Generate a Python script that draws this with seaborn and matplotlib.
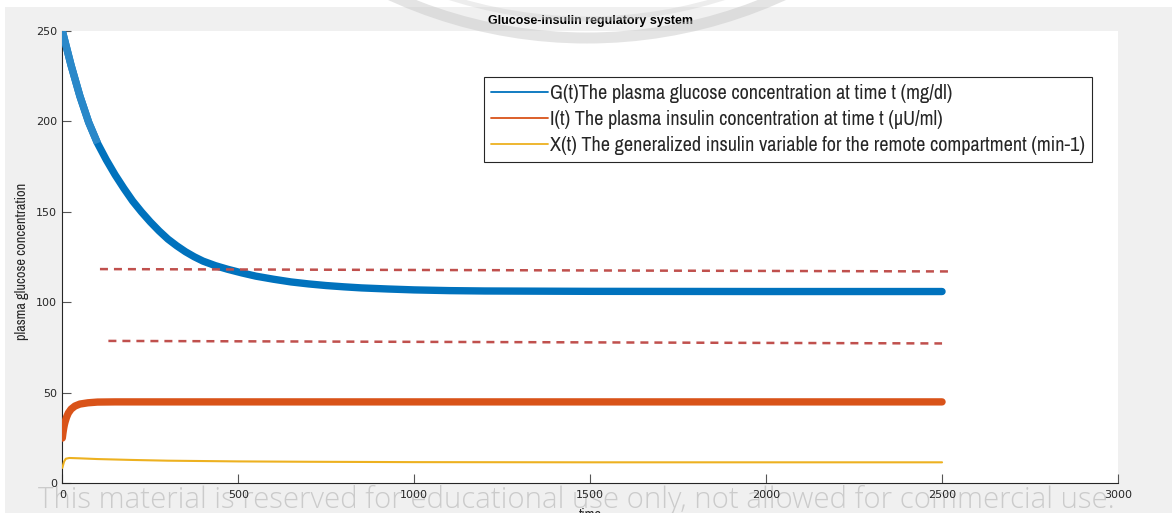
import matplotlib
matplotlib.use("Agg")
import matplotlib.pyplot as plt
from matplotlib import font_manager
from matplotlib.font_manager import FontProperties
from matplotlib.patches import Rectangle, Arc
from matplotlib.lines import Line2D
from matplotlib.transforms import IdentityTransform
import pandas as pd
import seaborn as sns

# ---- data -------------------------------------------------------------
t_glucose = [0, 25, 50, 75, 100, 125, 150, 175, 200, 225, 250, 275, 300,
             325, 350, 375, 400, 435, 470, 510, 550, 600, 650, 700, 750,
             800, 850, 925, 1000, 1100, 1200, 1350, 1500, 2000, 2500]
glucose = [250, 231, 214, 199.5, 188, 178.8, 170.5, 163, 156, 150, 144.5,
           139.5, 135, 131.3, 128, 125.2, 122.8, 120.3, 118.3, 116.3, 114.5,
           112.8, 111.3, 110.2, 109.3, 108.6, 108.0, 107.4, 106.9, 106.5,
           106.3, 106.2, 106.1, 106.0, 106.0]

t_insulin = [0, 2, 4, 6, 8, 12, 17, 25, 36, 50, 73, 100, 150, 2500]
insulin = [25, 28, 30.5, 32.5, 34, 36.5, 38.8, 41, 42.7, 43.8, 44.5, 44.9,
           45.0, 45.0]

t_remote = [0, 5, 10, 20, 50, 100, 200, 300, 500, 700, 1000, 1500, 2500]
remote_x = [8.5, 12, 13.6, 14, 13.8, 13.4, 12.9, 12.5, 12.1, 11.9, 11.7,
            11.6, 11.6]

upper_t = [107, 2517]
upper_y = [118.4, 117.1]
lower_t = [131, 2500]
lower_y = [78.7, 77.3]

series_labels = [
    "G(t)The plasma glucose concentration at time t (mg/dl)",
    "I(t) The plasma insulin concentration at time t (\u00b5U/ml)",
    "X(t) The generalized insulin variable for the remote compartment (min-1)",
]
title_text = "Glucose-insulin regulatory system"
x_label = "time"
y_label = "plasma glucose concentration"
x_ticks = [0, 500, 1000, 1500, 2000, 2500, 3000]
y_ticks = [0, 50, 100, 150, 200, 250]
notice = ("This material is reserved for educational use only, "
          "not allowed for commercial use.")

# ---- style ------------------------------------------------------------
sns.set_theme(style="ticks")
entries = font_manager.fontManager.ttflist
names = {f.name for f in entries}


def first_family(cands, fallback):
    for c in cands:
        if c in names:
            return c
    return fallback


narrow = first_family(["Liberation Sans Narrow", "Arial Narrow", "Archivo Narrow",
                       "Roboto Condensed", "PT Sans Narrow"], "Liberation Sans")
wm_family = "Open Sans"
wm_weight = "normal"
for fam in ["Selawik", "Open Sans", "Noto Sans", "Lato"]:
    if any(f.name == fam and f.weight in (300, "light") and f.style == "normal"
           for f in entries):
        wm_family, wm_weight = fam, 300
        break

plt.rcParams["font.family"] = ["Liberation Sans", "DejaVu Sans"]

C_BLUE = "#0072bd"
C_BLUE_LIGHT = "#2a88c9"
C_ORANGE = "#d95319"
C_YELLOW = "#edb120"
C_DASH = "#c0504d"
INK = "#262626"

W, H = 1172, 513
fig = plt.figure(figsize=(W / 100, H / 100), dpi=100, facecolor="#f0f0f0")
renderer = fig.canvas.get_renderer()


def fit_size(text, target_px, **kw):
    probe = fig.text(0, 0, text, fontsize=10, **kw)
    w = probe.get_window_extent(renderer).width
    probe.remove()
    return 10 * target_px / w


# white margins along the top and left edges
fig.patches.append(Rectangle((0, 1 - 7 / H), 1, 7 / H, transform=fig.transFigure,
                             facecolor="white", edgecolor="none", zorder=-5))
fig.patches.append(Rectangle((0, 0), 5 / W, 1, transform=fig.transFigure,
                             facecolor="white", edgecolor="none", zorder=-5))

x0, x1 = 62.3, 1118.0
y_top, y_bot = 31.0, 483.3
ax = fig.add_axes([x0 / W, 1 - y_bot / H, (x1 - x0) / W, (y_bot - y_top) / H])
ax.set_facecolor("white")

# ---- series -----------------------------------------------------------
df_g = pd.DataFrame({"t": t_glucose, "v": glucose})
df_i = pd.DataFrame({"t": t_insulin, "v": insulin})
df_x = pd.DataFrame({"t": t_remote, "v": remote_x})

sns.lineplot(data=df_g, x="t", y="v", ax=ax, color=C_BLUE, linewidth=5.3,
             solid_capstyle="round", solid_joinstyle="round", zorder=3)
sns.lineplot(data=df_g[df_g["t"] <= 100], x="t", y="v", ax=ax,
             color=C_BLUE_LIGHT, linewidth=5.3, solid_capstyle="butt",
             solid_joinstyle="round", zorder=3)
sns.lineplot(data=df_i, x="t", y="v", ax=ax, color=C_ORANGE, linewidth=5.3,
             solid_capstyle="round", solid_joinstyle="round", zorder=3)
sns.lineplot(data=df_x, x="t", y="v", ax=ax, color=C_YELLOW, linewidth=1.5,
             zorder=3)

# reference band limits
for tt, yy in ((upper_t, upper_y), (lower_t, lower_y)):
    sns.lineplot(x=tt, y=yy, ax=ax, color=C_DASH, linewidth=1.8,
                 linestyle=(0, (3.2, 2.4)), zorder=4)

# ---- axes -------------------------------------------------------------
ax.set_xlim(0, 3000)
ax.set_ylim(0, 250)
ax.set_xticks(x_ticks)
ax.set_yticks(y_ticks)
ax.set_xticklabels([str(v) for v in x_ticks], family="DejaVu Sans")
ax.set_yticklabels([str(v) for v in y_ticks], family="DejaVu Sans")
for side in ("top", "right"):
    ax.spines[side].set_visible(False)
for side in ("left", "bottom"):
    ax.spines[side].set_color(INK)
    ax.spines[side].set_linewidth(0.8)
ax.tick_params(axis="both", direction="in", length=6.5, width=0.8,
               color="#555555", labelcolor=INK, labelsize=8)
ax.tick_params(axis="y", pad=3.6)
ax.tick_params(axis="x", pad=5)

ax.set_title(title_text, fontsize=9, fontweight="bold", color="black", pad=5)

ylab_size = fit_size(y_label, 157, family=narrow)
ax.set_ylabel(y_label, family=narrow, fontsize=ylab_size, color=INK)
ax.yaxis.set_label_coords((22 - x0) / (x1 - x0), 0.49)
ax.yaxis.label.set_va("center")

ax.set_xlabel(x_label, family=narrow, fontsize=ylab_size, color=INK)
ax.xaxis.set_label_coords(0.5, -(508 - y_bot) / (y_bot - y_top))

# ---- legend -----------------------------------------------------------
leg_size = fit_size(series_labels[2], 539, family=narrow)
leg_px = leg_size * 100 / 72
handles = [Line2D([], [], color=c, linewidth=1.3)
           for c in (C_BLUE, C_ORANGE, C_YELLOW)]
leg = ax.legend(handles, series_labels, loc="upper left",
                bbox_to_anchor=(484 / W, 1 - 77 / H),
                bbox_transform=fig.transFigure, borderaxespad=0,
                prop=FontProperties(family=narrow, size=leg_size),
                frameon=True, fancybox=False, framealpha=1,
                edgecolor=INK, facecolor="white",
                handlelength=57 / leg_px, handletextpad=0.1,
                borderpad=0.35, labelspacing=0.35)
leg.get_frame().set_linewidth(0.8)
for txt in leg.get_texts():
    txt.set_color(INK)

# ---- watermark --------------------------------------------------------
arc_outer = Arc((587, H + 433), 2 * 471, 2 * 471, theta1=195, theta2=345,
                transform=IdentityTransform(), color="#c4c4c4", alpha=0.45,
                linewidth=11 * 0.72, zorder=6)
arc_inner = Arc((587, H + 433), 2 * 452, 2 * 452, theta1=195, theta2=345,
                transform=IdentityTransform(), color="#cccccc", alpha=0.35,
                linewidth=5 * 0.72, zorder=6)
fig.add_artist(arc_outer)
fig.add_artist(arc_inner)

wm_size = fit_size(notice, 1073, family=wm_family, fontweight=wm_weight)
fig.text(38 / W, 1 - 508 / H, notice, family=wm_family, fontweight=wm_weight,
         fontsize=wm_size, color="#cbcbcb", ha="left", va="baseline",
         zorder=-1)

fig.savefig("out.png", dpi=100, facecolor=fig.get_facecolor())
